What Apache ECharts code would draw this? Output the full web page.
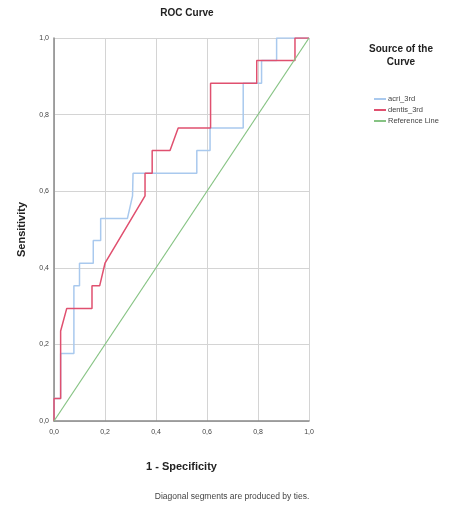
<!DOCTYPE html>
<html>
<head>
<meta charset="utf-8">
<script src="https://cdn.jsdelivr.net/npm/echarts@6/dist/echarts.min.js"></script>
<style>
  html, body { margin: 0; padding: 0; background: #fff; }
  #roc { width: 455px; height: 506px; }
</style>
</head>
<body>
<div id="roc"></div>
<script>
// ROC points (1 - specificity, sensitivity)
var acriFpr = [0, 0, 0.026, 0.026, 0.078, 0.078, 0.100, 0.100, 0.154, 0.154, 0.183, 0.183, 0.288, 0.308, 0.310, 0.560, 0.560, 0.612, 0.612, 0.742, 0.742, 0.814, 0.814, 0.873, 0.873, 1];
var acriTpr = [0, 0.059, 0.059, 0.176, 0.176, 0.353, 0.353, 0.412, 0.412, 0.471, 0.471, 0.529, 0.529, 0.588, 0.647, 0.647, 0.706, 0.706, 0.765, 0.765, 0.882, 0.882, 0.941, 0.941, 1, 1];

var dentisFpr = [0, 0, 0.026, 0.026, 0.050, 0.149, 0.149, 0.179, 0.200, 0.357, 0.357, 0.385, 0.385, 0.455, 0.487, 0.614, 0.614, 0.795, 0.795, 0.945, 0.945, 1];
var dentisTpr = [0, 0.059, 0.059, 0.235, 0.294, 0.294, 0.353, 0.353, 0.412, 0.588, 0.647, 0.647, 0.706, 0.706, 0.765, 0.765, 0.882, 0.882, 0.941, 0.941, 1, 1];

var refFpr = [0, 1];
var refTpr = [0, 1];

var seriesNames = ['acri_3rd', 'dentis_3rd', 'Reference Line'];
var colors = ['#a9c9ee', '#e0506f', '#86c383'];

function pairs(xs, ys) {
    return xs.map(function (x, i) {
        return [x, ys[i]];
    });
}

function comma(v) {
    return v.toFixed(1).replace('.', ',');
}

var font = '"Liberation Sans", Arial, sans-serif';
var myChart = echarts.init(document.getElementById('roc'));
myChart.setOption({
    backgroundColor: '#fff',
    animation: false,
    textStyle: { fontFamily: font },
    title: {
        text: 'ROC Curve',
        left: 182,
        textAlign: 'center',
        top: 3,
        textStyle: { fontSize: 10, fontWeight: 'bold', color: '#222', fontFamily: font }
    },
    grid: { left: 54, right: 146, top: 38, bottom: 85 },
    xAxis: {
        type: 'value',
        min: 0, max: 1, interval: 0.2,
        name: '1 - Specificity',
        nameLocation: 'middle',
        nameGap: 40,
        nameTextStyle: { fontSize: 11, fontWeight: 'bold', color: '#222', fontFamily: font },
        axisLine: { lineStyle: { color: '#888', width: 1.5 } },
        axisTick: { show: false },
        axisLabel: { fontSize: 7, color: '#444', margin: 8, formatter: comma },
        splitLine: { lineStyle: { color: '#d4d4d4' } }
    },
    yAxis: {
        type: 'value',
        min: 0, max: 1, interval: 0.2,
        name: 'Sensitivity',
        nameLocation: 'middle',
        nameGap: 27,
        nameTextStyle: { fontSize: 11, fontWeight: 'bold', color: '#222', fontFamily: font },
        axisLine: { show: true, lineStyle: { color: '#888', width: 1.5 } },
        axisTick: { show: false },
        axisLabel: { fontSize: 7, color: '#444', margin: 5, formatter: comma },
        splitLine: { lineStyle: { color: '#d4d4d4' } }
    },
    legend: {
        orient: 'vertical',
        left: 369,
        top: 90,
        itemWidth: 12,
        itemHeight: 2,
        itemGap: 3,
        icon: 'rect',
        textStyle: { fontSize: 7.5, color: '#444', padding: [0, 0, 0, -3], fontFamily: font },
        data: seriesNames
    },
    graphic: [
        {
            type: 'text',
            x: 401, y: 43,
            style: {
                text: 'Source of the\nCurve',
                font: 'bold 10px ' + font,
                fill: '#222',
                align: 'center',
                lineHeight: 13
            }
        },
        {
            type: 'text',
            x: 232, y: 492,
            style: {
                text: 'Diagonal segments are produced by ties.',
                font: '8.5px ' + font,
                fill: '#444',
                align: 'center'
            }
        }
    ],
    series: [
        {
            name: seriesNames[0],
            type: 'line',
            symbol: 'none',
            data: pairs(acriFpr, acriTpr),
            lineStyle: { color: colors[0], width: 1.5 },
            itemStyle: { color: colors[0] }
        },
        {
            name: seriesNames[1],
            type: 'line',
            symbol: 'none',
            data: pairs(dentisFpr, dentisTpr),
            lineStyle: { color: colors[1], width: 1.5 },
            itemStyle: { color: colors[1] }
        },
        {
            name: seriesNames[2],
            type: 'line',
            symbol: 'none',
            data: pairs(refFpr, refTpr),
            lineStyle: { color: colors[2], width: 1.2 },
            itemStyle: { color: colors[2] }
        }
    ]
});
</script>
</body>
</html>
